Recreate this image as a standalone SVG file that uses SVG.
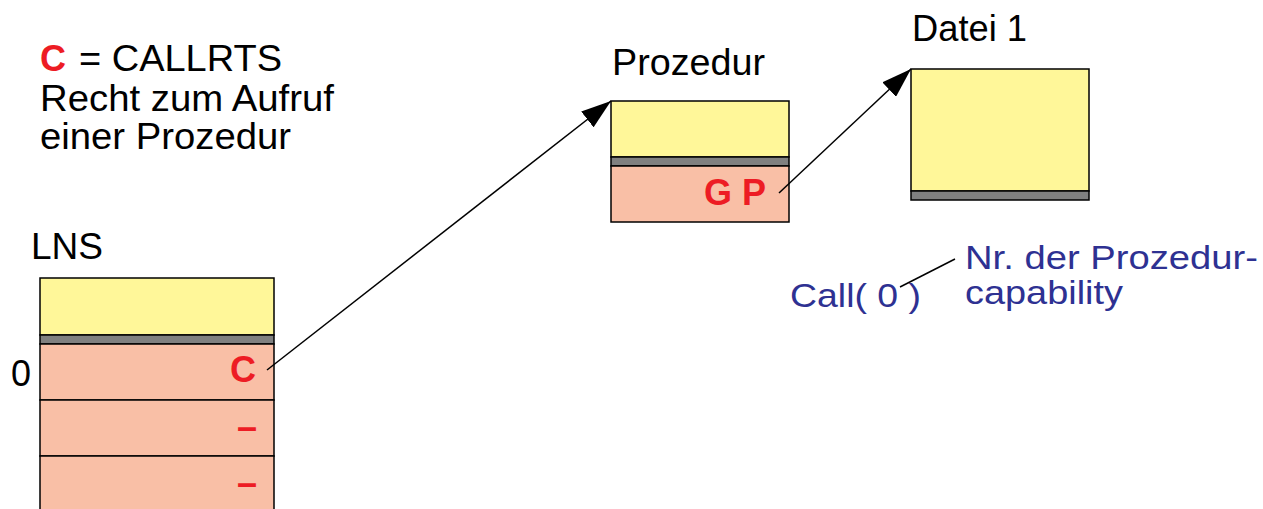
<svg xmlns="http://www.w3.org/2000/svg" width="1263" height="509" viewBox="0 0 1263 509">
<defs>
<style>
.t{font-family:"Liberation Sans",Arial,sans-serif;font-size:36px;fill:#000}
.r{font-family:"Liberation Sans",Arial,sans-serif;font-size:36px;font-weight:bold;fill:#ED1C24}
.b{font-family:"Liberation Sans",Arial,sans-serif;font-size:33px;fill:#2E3192}
.y{fill:#FFF799;stroke:#000;stroke-width:1.5}
.g{fill:#808080;stroke:#000;stroke-width:1.5}
.s{fill:#F9BFA6;stroke:#000;stroke-width:1.5}
.c{stroke:#000;stroke-width:1.5;fill:none}
</style>
<marker id="ah2" viewBox="0 0 30 20" refX="30" refY="10" markerWidth="30" markerHeight="20" markerUnits="userSpaceOnUse" orient="auto">
<path d="M0,0 L30,10 L0,20 z" fill="#000"/>
</marker>
</defs>
<rect width="1263" height="509" fill="#fff"/>

<g id="legend">
<text class="r" x="40" y="71" textLength="26" lengthAdjust="spacingAndGlyphs">C</text>
<text class="t" x="79" y="71" textLength="203" lengthAdjust="spacingAndGlyphs">= CALLRTS</text>
<text class="t" x="40" y="111" textLength="294" lengthAdjust="spacingAndGlyphs">Recht zum Aufruf</text>
<text class="t" x="40" y="149" textLength="251" lengthAdjust="spacingAndGlyphs">einer Prozedur</text>
</g>

<g id="lns">
<text class="t" x="31" y="259" textLength="72" lengthAdjust="spacingAndGlyphs">LNS</text>
<rect class="y" x="40" y="278" width="234" height="57"/>
<rect class="g" x="40" y="335" width="234" height="9"/>
<rect class="s" x="40" y="344" width="234" height="56"/>
<rect class="s" x="40" y="400" width="234" height="56"/>
<rect class="s" x="40" y="456" width="234" height="60"/>
<text class="t" x="11" y="386">0</text>
<text class="r" x="256" y="382" text-anchor="end">C</text>
<text class="r" x="257" y="439" text-anchor="end">–</text>
<text class="r" x="257" y="495" text-anchor="end">–</text>
</g>

<g id="prozedur">
<text class="t" x="612" y="75" textLength="153" lengthAdjust="spacingAndGlyphs">Prozedur</text>
<rect class="y" x="611" y="101" width="178" height="56"/>
<rect class="g" x="611" y="157" width="178" height="9"/>
<rect class="s" x="611" y="166" width="178" height="56"/>
<text class="r" x="704" y="205" textLength="62" lengthAdjust="spacingAndGlyphs">G P</text>
</g>

<g id="datei1">
<text class="t" x="912" y="41" textLength="115" lengthAdjust="spacingAndGlyphs">Datei 1</text>
<rect class="y" x="911" y="69" width="178" height="122"/>
<rect class="g" x="911" y="191" width="178" height="9"/>
</g>

<g id="call">
<text class="b" x="790" y="307" textLength="131" lengthAdjust="spacingAndGlyphs">Call( 0 )</text>
<text class="b" x="965" y="269" textLength="293" lengthAdjust="spacingAndGlyphs">Nr. der Prozedur-</text>
<text class="b" x="965" y="304" textLength="158" lengthAdjust="spacingAndGlyphs">capability</text>
</g>

<g id="connectors">
<line class="c" x1="267" y1="370" x2="611" y2="101" marker-end="url(#ah2)"/>
<line class="c" x1="779" y1="193" x2="911" y2="69" marker-end="url(#ah2)"/>
<line class="c" x1="900" y1="287" x2="955" y2="259"/>
</g>
</svg>
